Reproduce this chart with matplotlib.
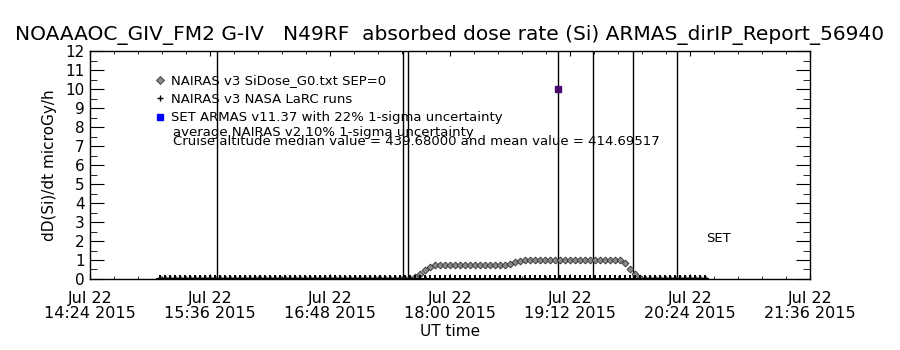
import numpy as np
import pandas as pd
import matplotlib
matplotlib.use('Agg')
import matplotlib.pyplot as plt
import matplotlib.dates as mdates
from matplotlib.lines import Line2D
from matplotlib.ticker import MultipleLocator

day = '2015-07-22 '

# sample times of the NAIRAS series (every 3 min, 15:06 -> 20:33 UT)
grid = pd.date_range(day + '15:06', day + '20:33', freq='3min')

# NAIRAS v3 SiDose_G0 (diamonds), microGy/h
nairas_g0 = [0.0] * 51 + [
    0.08, 0.25, 0.45, 0.62, 0.72,
    0.74, 0.74, 0.75, 0.74, 0.74, 0.73, 0.74, 0.74, 0.75, 0.74, 0.74, 0.74, 0.75, 0.76,
    0.80, 0.90, 0.96,
    0.98, 0.99, 0.99, 1.00, 1.00, 1.01, 1.00, 1.00, 1.00, 1.00,
    1.01, 1.00, 1.00, 0.99, 0.99, 1.00, 0.99, 0.98, 0.98, 0.98,
    0.85, 0.55, 0.25, 0.07,
] + [0.0] * 13

# NAIRAS v3 NASA LaRC runs (plus signs)
larc_runs = [
    0.0, 0.0, 0.0, 0.0, 0.0, 0.0, 0.0, 0.0, 0.0, 0.0,
    0.0, 0.0, 0.0, 0.0, 0.0, 0.0, 0.0, 0.0, 0.0, 0.0,
    0.0, 0.0, 0.0, 0.0, 0.0, 0.0, 0.0, 0.0, 0.0, 0.0,
    0.0, 0.0, 0.0, 0.0, 0.0, 0.0, 0.0, 0.0, 0.0, 0.0,
    0.0, 0.0, 0.0, 0.0, 0.0, 0.0, 0.0, 0.0, 0.0, 0.0,
    0.0, 0.0, 0.0, 0.0, 0.0, 0.0, 0.0, 0.0, 0.0, 0.0,
    0.0, 0.0, 0.0, 0.0, 0.0, 0.0, 0.0, 0.0, 0.0, 0.0,
    0.0, 0.0, 0.0, 0.0, 0.0, 0.0, 0.0, 0.0, 0.0, 0.0,
    0.0, 0.0, 0.0, 0.0, 0.0, 0.0, 0.0, 0.0, 0.0, 0.0,
    0.0, 0.0, 0.0, 0.0, 0.0, 0.0, 0.0, 0.0, 0.0, 0.0,
    0.0, 0.0, 0.0, 0.0, 0.0, 0.0, 0.0, 0.0, 0.0, 0.0,
]

# SET ARMAS point and the uncertainty bars (vertical lines)
armas_time = ['19:05']
armas_dose = [10.0]
bar_times = ['15:40', '17:32', '17:35', '19:05', '19:26', '19:50', '20:16']

tick_times = pd.date_range(day + '14:24', day + '21:36', freq='72min')
minor_times = pd.date_range(day + '14:24', day + '21:36', freq='864s')

title = ('NOAAAOC_GIV_FM2 G-IV   N49RF  absorbed dose rate (Si) '
         'ARMAS_dirIP_Report_56940')

fig = plt.figure(figsize=(9, 3.5), dpi=100)
ax = fig.add_axes([0.1, 0.203, 0.8, 0.65])

ax.vlines(pd.to_datetime([day + t for t in bar_times]), 0, 12,
          color='black', lw=1)
ax.plot(grid, nairas_g0, ls='none', marker='D', ms=3.5,
        mfc='#8a8a8a', mec='#303030', mew=0.6)
ax.plot(grid, larc_runs, ls='none', marker='+', ms=6, mew=1.4, color='black')
ax.plot(pd.to_datetime([day + t for t in armas_time]), armas_dose,
        ls='none', marker='s', ms=5, color='#4b0a70')

ax.set_xlim(tick_times[0], tick_times[-1])
ax.set_ylim(0, 12)

ax.set_xticks(tick_times)
ax.set_xticks(minor_times, minor=True)
ax.xaxis.set_major_formatter(mdates.DateFormatter('%b %d\n%H:%M %Y'))
ax.yaxis.set_major_locator(MultipleLocator(1))
ax.yaxis.set_minor_locator(MultipleLocator(0.5))

ax.tick_params(axis='x', which='major', direction='in', length=3.5,
               top=True, labelsize=11.5, pad=9)
ax.tick_params(axis='x', which='minor', direction='in', length=2.5, top=True)
ax.tick_params(axis='y', which='major', direction='in', length=10,
               right=True, labelsize=11, pad=4)
ax.tick_params(axis='y', which='minor', direction='in', length=5, right=True)
for lab in ax.get_xticklabels():
    lab.set_linespacing(0.95)
for s in ax.spines.values():
    s.set_linewidth(1)

ax.set_xlabel('UT time', fontsize=11, labelpad=2)
ax.set_ylabel('dD(Si)/dt microGy/h', fontsize=11, labelpad=6)
fig.text(0.5, 0.9, title, ha='center', va='center', fontsize=14.5)

handles = [
    Line2D([], [], ls='none', marker='D', ms=4, mfc='#8a8a8a', mec='#303030', mew=0.6),
    Line2D([], [], ls='none', marker='+', ms=5, mew=1, color='black'),
    Line2D([], [], ls='none', marker='s', ms=4, color='#0000ff'),
]
labels = ['NAIRAS v3 SiDose_G0.txt SEP=0', 'NAIRAS v3 NASA LaRC runs',
          'SET ARMAS v11.37 with 22% 1-sigma uncertainty']
ax.legend(handles, labels, loc='upper left', bbox_to_anchor=(0.092, 0.9),
          frameon=False, fontsize=9.5, handlelength=0.6, handletextpad=0.5,
          labelspacing=0.42, borderpad=0, borderaxespad=0)
ax.text(0.115, 0.645, 'average NAIRAS v2 10% 1-sigma uncertainty',
        transform=ax.transAxes, fontsize=9.5, va='center')
ax.text(0.115, 0.605,
        'Cruise altitude median value = 439.68000 and mean value = 414.69517',
        transform=ax.transAxes, fontsize=9.5, va='center')
ax.text(0.856, 0.18, 'SET', transform=ax.transAxes, fontsize=9.5, va='center')

fig.savefig('out.png', dpi=100)
